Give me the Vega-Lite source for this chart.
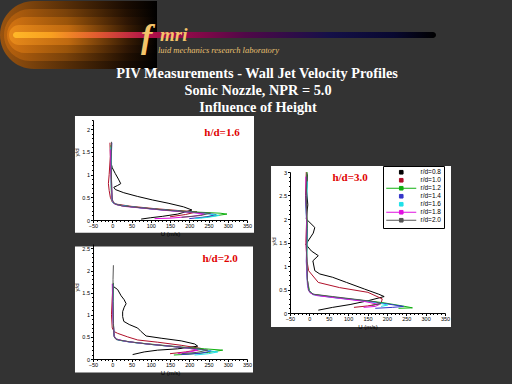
{
"$schema":"https://vega.github.io/schema/vega-lite/v6.json",
"background":"#333333",
"padding":{"left":0,"top":0,"right":0,"bottom":13},
"config":{"view":{"stroke":null},"font":"Liberation Sans"},
"spacing":0,
"resolve":{"scale":{"color":"independent"},"legend":{"color":"independent"}},
"datasets":{"prof":[
{"p":1,"s":"r/d=0.8","i":0,"u":-3,"y":1.25},{"p":1,"s":"r/d=0.8","i":1,"u":0,"y":1.15},{"p":1,"s":"r/d=0.8","i":2,"u":8,"y":1.02},{"p":1,"s":"r/d=0.8","i":3,"u":16,"y":0.9},{"p":1,"s":"r/d=0.8","i":4,"u":22,"y":0.8},{"p":1,"s":"r/d=0.8","i":5,"u":14,"y":0.76},{"p":1,"s":"r/d=0.8","i":6,"u":4,"y":0.72},{"p":1,"s":"r/d=0.8","i":7,"u":8,"y":0.67},{"p":1,"s":"r/d=0.8","i":8,"u":30,"y":0.6},{"p":1,"s":"r/d=0.8","i":9,"u":65,"y":0.52},{"p":1,"s":"r/d=0.8","i":10,"u":105,"y":0.44},{"p":1,"s":"r/d=0.8","i":11,"u":145,"y":0.37},{"p":1,"s":"r/d=0.8","i":12,"u":185,"y":0.29},{"p":1,"s":"r/d=0.8","i":13,"u":207,"y":0.22},{"p":1,"s":"r/d=0.8","i":14,"u":170,"y":0.13},{"p":1,"s":"r/d=0.8","i":15,"u":130,"y":0.08},{"p":1,"s":"r/d=0.8","i":16,"u":100,"y":0.05},{"p":1,"s":"r/d=0.8","i":17,"u":75,"y":0.02},
{"p":1,"s":"r/d=1.0","i":0,"u":-6,"y":1.7},{"p":1,"s":"r/d=1.0","i":1,"u":-5,"y":1.4},{"p":1,"s":"r/d=1.0","i":2,"u":-8,"y":1.0},{"p":1,"s":"r/d=1.0","i":3,"u":-10,"y":0.8},{"p":1,"s":"r/d=1.0","i":4,"u":-8,"y":0.65},{"p":1,"s":"r/d=1.0","i":5,"u":-5,"y":0.5},{"p":1,"s":"r/d=1.0","i":6,"u":0,"y":0.4},{"p":1,"s":"r/d=1.0","i":7,"u":10,"y":0.35},{"p":1,"s":"r/d=1.0","i":8,"u":50,"y":0.3},{"p":1,"s":"r/d=1.0","i":9,"u":110,"y":0.25},{"p":1,"s":"r/d=1.0","i":10,"u":170,"y":0.21},{"p":1,"s":"r/d=1.0","i":11,"u":220,"y":0.18},{"p":1,"s":"r/d=1.0","i":12,"u":190,"y":0.12},{"p":1,"s":"r/d=1.0","i":13,"u":150,"y":0.07},
{"p":1,"s":"r/d=1.2","i":0,"u":-3,"y":1.65},{"p":1,"s":"r/d=1.2","i":1,"u":-4,"y":1.2},{"p":1,"s":"r/d=1.2","i":2,"u":-3,"y":0.8},{"p":1,"s":"r/d=1.2","i":3,"u":-2,"y":0.5},{"p":1,"s":"r/d=1.2","i":4,"u":0,"y":0.4},{"p":1,"s":"r/d=1.2","i":5,"u":10,"y":0.34},{"p":1,"s":"r/d=1.2","i":6,"u":50,"y":0.29},{"p":1,"s":"r/d=1.2","i":7,"u":110,"y":0.24},{"p":1,"s":"r/d=1.2","i":8,"u":170,"y":0.2},{"p":1,"s":"r/d=1.2","i":9,"u":230,"y":0.17},{"p":1,"s":"r/d=1.2","i":10,"u":280,"y":0.15},{"p":1,"s":"r/d=1.2","i":11,"u":298,"y":0.13},{"p":1,"s":"r/d=1.2","i":12,"u":265,"y":0.09},{"p":1,"s":"r/d=1.2","i":13,"u":230,"y":0.05},
{"p":1,"s":"r/d=1.4","i":0,"u":-1,"y":1.7},{"p":1,"s":"r/d=1.4","i":1,"u":-3,"y":1.3},{"p":1,"s":"r/d=1.4","i":2,"u":-2,"y":0.9},{"p":1,"s":"r/d=1.4","i":3,"u":-1,"y":0.5},{"p":1,"s":"r/d=1.4","i":4,"u":2,"y":0.38},{"p":1,"s":"r/d=1.4","i":5,"u":15,"y":0.33},{"p":1,"s":"r/d=1.4","i":6,"u":60,"y":0.28},{"p":1,"s":"r/d=1.4","i":7,"u":120,"y":0.23},{"p":1,"s":"r/d=1.4","i":8,"u":180,"y":0.19},{"p":1,"s":"r/d=1.4","i":9,"u":240,"y":0.15},{"p":1,"s":"r/d=1.4","i":10,"u":270,"y":0.12},{"p":1,"s":"r/d=1.4","i":11,"u":245,"y":0.07},{"p":1,"s":"r/d=1.4","i":12,"u":200,"y":0.03},
{"p":1,"s":"r/d=1.6","i":0,"u":-4,"y":1.6},{"p":1,"s":"r/d=1.6","i":1,"u":-2,"y":1.2},{"p":1,"s":"r/d=1.6","i":2,"u":-3,"y":0.8},{"p":1,"s":"r/d=1.6","i":3,"u":-1,"y":0.45},{"p":1,"s":"r/d=1.6","i":4,"u":3,"y":0.37},{"p":1,"s":"r/d=1.6","i":5,"u":20,"y":0.32},{"p":1,"s":"r/d=1.6","i":6,"u":70,"y":0.27},{"p":1,"s":"r/d=1.6","i":7,"u":130,"y":0.22},{"p":1,"s":"r/d=1.6","i":8,"u":190,"y":0.18},{"p":1,"s":"r/d=1.6","i":9,"u":245,"y":0.14},{"p":1,"s":"r/d=1.6","i":10,"u":278,"y":0.1},{"p":1,"s":"r/d=1.6","i":11,"u":250,"y":0.06},{"p":1,"s":"r/d=1.6","i":12,"u":215,"y":0.03},
{"p":1,"s":"r/d=1.8","i":0,"u":-5,"y":1.55},{"p":1,"s":"r/d=1.8","i":1,"u":-4,"y":1.1},{"p":1,"s":"r/d=1.8","i":2,"u":-2,"y":0.7},{"p":1,"s":"r/d=1.8","i":3,"u":0,"y":0.42},{"p":1,"s":"r/d=1.8","i":4,"u":6,"y":0.35},{"p":1,"s":"r/d=1.8","i":5,"u":30,"y":0.3},{"p":1,"s":"r/d=1.8","i":6,"u":80,"y":0.26},{"p":1,"s":"r/d=1.8","i":7,"u":140,"y":0.21},{"p":1,"s":"r/d=1.8","i":8,"u":200,"y":0.17},{"p":1,"s":"r/d=1.8","i":9,"u":240,"y":0.13},{"p":1,"s":"r/d=1.8","i":10,"u":210,"y":0.08},{"p":1,"s":"r/d=1.8","i":11,"u":150,"y":0.04},{"p":1,"s":"r/d=1.8","i":12,"u":110,"y":0.03},
{"p":1,"s":"r/d=2.0","i":0,"u":-2,"y":1.72},{"p":1,"s":"r/d=2.0","i":1,"u":-3,"y":1.3},{"p":1,"s":"r/d=2.0","i":2,"u":-2,"y":0.9},{"p":1,"s":"r/d=2.0","i":3,"u":0,"y":0.45},{"p":1,"s":"r/d=2.0","i":4,"u":5,"y":0.36},{"p":1,"s":"r/d=2.0","i":5,"u":25,"y":0.31},{"p":1,"s":"r/d=2.0","i":6,"u":75,"y":0.27},{"p":1,"s":"r/d=2.0","i":7,"u":135,"y":0.22},{"p":1,"s":"r/d=2.0","i":8,"u":195,"y":0.18},{"p":1,"s":"r/d=2.0","i":9,"u":255,"y":0.15},{"p":1,"s":"r/d=2.0","i":10,"u":230,"y":0.1},{"p":1,"s":"r/d=2.0","i":11,"u":180,"y":0.06},
{"p":2,"s":"r/d=0.8","i":0,"u":3,"y":1.64},{"p":2,"s":"r/d=0.8","i":1,"u":14,"y":1.57},{"p":2,"s":"r/d=0.8","i":2,"u":23,"y":1.43},{"p":2,"s":"r/d=0.8","i":3,"u":31,"y":1.34},{"p":2,"s":"r/d=0.8","i":4,"u":36,"y":1.25},{"p":2,"s":"r/d=0.8","i":5,"u":31,"y":1.17},{"p":2,"s":"r/d=0.8","i":6,"u":27,"y":1.07},{"p":2,"s":"r/d=0.8","i":7,"u":27,"y":0.96},{"p":2,"s":"r/d=0.8","i":8,"u":30,"y":0.85},{"p":2,"s":"r/d=0.8","i":9,"u":44,"y":0.78},{"p":2,"s":"r/d=0.8","i":10,"u":66,"y":0.7},{"p":2,"s":"r/d=0.8","i":11,"u":75,"y":0.62},{"p":2,"s":"r/d=0.8","i":12,"u":88,"y":0.52},{"p":2,"s":"r/d=0.8","i":13,"u":127,"y":0.47},{"p":2,"s":"r/d=0.8","i":14,"u":179,"y":0.41},{"p":2,"s":"r/d=0.8","i":15,"u":214,"y":0.34},{"p":2,"s":"r/d=0.8","i":16,"u":222,"y":0.29},{"p":2,"s":"r/d=0.8","i":17,"u":170,"y":0.23},{"p":2,"s":"r/d=0.8","i":18,"u":118,"y":0.2},{"p":2,"s":"r/d=0.8","i":19,"u":83,"y":0.16},{"p":2,"s":"r/d=0.8","i":20,"u":53,"y":0.1},
{"p":2,"s":"r/d=1.0","i":0,"u":2,"y":1.7},{"p":2,"s":"r/d=1.0","i":1,"u":0,"y":1.4},{"p":2,"s":"r/d=1.0","i":2,"u":-2,"y":1.0},{"p":2,"s":"r/d=1.0","i":3,"u":0,"y":0.7},{"p":2,"s":"r/d=1.0","i":4,"u":5,"y":0.62},{"p":2,"s":"r/d=1.0","i":5,"u":14,"y":0.58},{"p":2,"s":"r/d=1.0","i":6,"u":40,"y":0.5},{"p":2,"s":"r/d=1.0","i":7,"u":66,"y":0.43},{"p":2,"s":"r/d=1.0","i":8,"u":118,"y":0.38},{"p":2,"s":"r/d=1.0","i":9,"u":179,"y":0.31},{"p":2,"s":"r/d=1.0","i":10,"u":230,"y":0.24},{"p":2,"s":"r/d=1.0","i":11,"u":235,"y":0.22},{"p":2,"s":"r/d=1.0","i":12,"u":190,"y":0.16},{"p":2,"s":"r/d=1.0","i":13,"u":150,"y":0.12},
{"p":2,"s":"r/d=1.2","i":0,"u":3,"y":1.72},{"p":2,"s":"r/d=1.2","i":1,"u":2,"y":1.3},{"p":2,"s":"r/d=1.2","i":2,"u":3,"y":0.9},{"p":2,"s":"r/d=1.2","i":3,"u":4,"y":0.55},{"p":2,"s":"r/d=1.2","i":4,"u":8,"y":0.47},{"p":2,"s":"r/d=1.2","i":5,"u":20,"y":0.42},{"p":2,"s":"r/d=1.2","i":6,"u":60,"y":0.37},{"p":2,"s":"r/d=1.2","i":7,"u":120,"y":0.32},{"p":2,"s":"r/d=1.2","i":8,"u":180,"y":0.27},{"p":2,"s":"r/d=1.2","i":9,"u":240,"y":0.23},{"p":2,"s":"r/d=1.2","i":10,"u":287,"y":0.2},{"p":2,"s":"r/d=1.2","i":11,"u":250,"y":0.15},{"p":2,"s":"r/d=1.2","i":12,"u":200,"y":0.11},{"p":2,"s":"r/d=1.2","i":13,"u":160,"y":0.09},
{"p":2,"s":"r/d=1.4","i":0,"u":2,"y":1.7},{"p":2,"s":"r/d=1.4","i":1,"u":1,"y":1.2},{"p":2,"s":"r/d=1.4","i":2,"u":3,"y":0.8},{"p":2,"s":"r/d=1.4","i":3,"u":5,"y":0.5},{"p":2,"s":"r/d=1.4","i":4,"u":12,"y":0.44},{"p":2,"s":"r/d=1.4","i":5,"u":40,"y":0.39},{"p":2,"s":"r/d=1.4","i":6,"u":100,"y":0.33},{"p":2,"s":"r/d=1.4","i":7,"u":160,"y":0.28},{"p":2,"s":"r/d=1.4","i":8,"u":220,"y":0.23},{"p":2,"s":"r/d=1.4","i":9,"u":257,"y":0.18},{"p":2,"s":"r/d=1.4","i":10,"u":230,"y":0.13},{"p":2,"s":"r/d=1.4","i":11,"u":180,"y":0.1},
{"p":2,"s":"r/d=1.6","i":0,"u":1,"y":1.68},{"p":2,"s":"r/d=1.6","i":1,"u":2,"y":1.2},{"p":2,"s":"r/d=1.6","i":2,"u":3,"y":0.7},{"p":2,"s":"r/d=1.6","i":3,"u":6,"y":0.48},{"p":2,"s":"r/d=1.6","i":4,"u":15,"y":0.43},{"p":2,"s":"r/d=1.6","i":5,"u":50,"y":0.38},{"p":2,"s":"r/d=1.6","i":6,"u":110,"y":0.32},{"p":2,"s":"r/d=1.6","i":7,"u":170,"y":0.27},{"p":2,"s":"r/d=1.6","i":8,"u":230,"y":0.21},{"p":2,"s":"r/d=1.6","i":9,"u":274,"y":0.16},{"p":2,"s":"r/d=1.6","i":10,"u":250,"y":0.12},{"p":2,"s":"r/d=1.6","i":11,"u":214,"y":0.09},
{"p":2,"s":"r/d=1.8","i":0,"u":0,"y":1.7},{"p":2,"s":"r/d=1.8","i":1,"u":1,"y":1.3},{"p":2,"s":"r/d=1.8","i":2,"u":2,"y":0.9},{"p":2,"s":"r/d=1.8","i":3,"u":5,"y":0.52},{"p":2,"s":"r/d=1.8","i":4,"u":10,"y":0.45},{"p":2,"s":"r/d=1.8","i":5,"u":35,"y":0.4},{"p":2,"s":"r/d=1.8","i":6,"u":90,"y":0.34},{"p":2,"s":"r/d=1.8","i":7,"u":150,"y":0.29},{"p":2,"s":"r/d=1.8","i":8,"u":200,"y":0.24},{"p":2,"s":"r/d=1.8","i":9,"u":222,"y":0.2},{"p":2,"s":"r/d=1.8","i":10,"u":200,"y":0.16},{"p":2,"s":"r/d=1.8","i":11,"u":170,"y":0.12},
{"p":2,"s":"r/d=2.0","i":0,"u":3,"y":2.12},{"p":2,"s":"r/d=2.0","i":1,"u":2,"y":1.8},{"p":2,"s":"r/d=2.0","i":2,"u":2,"y":1.3},{"p":2,"s":"r/d=2.0","i":3,"u":3,"y":0.8},{"p":2,"s":"r/d=2.0","i":4,"u":5,"y":0.5},{"p":2,"s":"r/d=2.0","i":5,"u":10,"y":0.44},{"p":2,"s":"r/d=2.0","i":6,"u":45,"y":0.39},{"p":2,"s":"r/d=2.0","i":7,"u":100,"y":0.33},{"p":2,"s":"r/d=2.0","i":8,"u":160,"y":0.28},{"p":2,"s":"r/d=2.0","i":9,"u":220,"y":0.23},{"p":2,"s":"r/d=2.0","i":10,"u":248,"y":0.2},{"p":2,"s":"r/d=2.0","i":11,"u":220,"y":0.15},{"p":2,"s":"r/d=2.0","i":12,"u":180,"y":0.12},
{"p":3,"s":"r/d=0.8","i":0,"u":-5,"y":2.95},{"p":3,"s":"r/d=0.8","i":1,"u":-7,"y":2.6},{"p":3,"s":"r/d=0.8","i":2,"u":-4,"y":2.3},{"p":3,"s":"r/d=0.8","i":3,"u":-8,"y":2.0},{"p":3,"s":"r/d=0.8","i":4,"u":14,"y":1.82},{"p":3,"s":"r/d=0.8","i":5,"u":10,"y":1.7},{"p":3,"s":"r/d=0.8","i":6,"u":-9,"y":1.46},{"p":3,"s":"r/d=0.8","i":7,"u":5,"y":1.32},{"p":3,"s":"r/d=0.8","i":8,"u":23,"y":1.22},{"p":3,"s":"r/d=0.8","i":9,"u":9,"y":1.11},{"p":3,"s":"r/d=0.8","i":10,"u":14,"y":0.9},{"p":3,"s":"r/d=0.8","i":11,"u":27,"y":0.83},{"p":3,"s":"r/d=0.8","i":12,"u":60,"y":0.76},{"p":3,"s":"r/d=0.8","i":13,"u":96,"y":0.65},{"p":3,"s":"r/d=0.8","i":14,"u":142,"y":0.51},{"p":3,"s":"r/d=0.8","i":15,"u":179,"y":0.4},{"p":3,"s":"r/d=0.8","i":16,"u":193,"y":0.35},{"p":3,"s":"r/d=0.8","i":17,"u":151,"y":0.26},{"p":3,"s":"r/d=0.8","i":18,"u":105,"y":0.18},{"p":3,"s":"r/d=0.8","i":19,"u":60,"y":0.12},{"p":3,"s":"r/d=0.8","i":20,"u":23,"y":0.06},
{"p":3,"s":"r/d=1.0","i":0,"u":-8,"y":3.0},{"p":3,"s":"r/d=1.0","i":1,"u":-10,"y":2.5},{"p":3,"s":"r/d=1.0","i":2,"u":-7,"y":2.0},{"p":3,"s":"r/d=1.0","i":3,"u":-9,"y":1.5},{"p":3,"s":"r/d=1.0","i":4,"u":-6,"y":1.1},{"p":3,"s":"r/d=1.0","i":5,"u":-2,"y":0.9},{"p":3,"s":"r/d=1.0","i":6,"u":5,"y":0.83},{"p":3,"s":"r/d=1.0","i":7,"u":23,"y":0.65},{"p":3,"s":"r/d=1.0","i":8,"u":78,"y":0.54},{"p":3,"s":"r/d=1.0","i":9,"u":151,"y":0.44},{"p":3,"s":"r/d=1.0","i":10,"u":188,"y":0.3},{"p":3,"s":"r/d=1.0","i":11,"u":185,"y":0.2},{"p":3,"s":"r/d=1.0","i":12,"u":150,"y":0.15},{"p":3,"s":"r/d=1.0","i":13,"u":115,"y":0.12},
{"p":3,"s":"r/d=1.2","i":0,"u":-6,"y":3.0},{"p":3,"s":"r/d=1.2","i":1,"u":-8,"y":2.4},{"p":3,"s":"r/d=1.2","i":2,"u":-5,"y":1.8},{"p":3,"s":"r/d=1.2","i":3,"u":-7,"y":1.2},{"p":3,"s":"r/d=1.2","i":4,"u":-5,"y":0.7},{"p":3,"s":"r/d=1.2","i":5,"u":0,"y":0.48},{"p":3,"s":"r/d=1.2","i":6,"u":8,"y":0.4},{"p":3,"s":"r/d=1.2","i":7,"u":60,"y":0.34},{"p":3,"s":"r/d=1.2","i":8,"u":124,"y":0.28},{"p":3,"s":"r/d=1.2","i":9,"u":190,"y":0.22},{"p":3,"s":"r/d=1.2","i":10,"u":240,"y":0.15},{"p":3,"s":"r/d=1.2","i":11,"u":266,"y":0.11},{"p":3,"s":"r/d=1.2","i":12,"u":230,"y":0.1},
{"p":3,"s":"r/d=1.4","i":0,"u":-7,"y":2.9},{"p":3,"s":"r/d=1.4","i":1,"u":-9,"y":2.3},{"p":3,"s":"r/d=1.4","i":2,"u":-6,"y":1.7},{"p":3,"s":"r/d=1.4","i":3,"u":-8,"y":1.1},{"p":3,"s":"r/d=1.4","i":4,"u":-5,"y":0.6},{"p":3,"s":"r/d=1.4","i":5,"u":0,"y":0.45},{"p":3,"s":"r/d=1.4","i":6,"u":10,"y":0.39},{"p":3,"s":"r/d=1.4","i":7,"u":65,"y":0.33},{"p":3,"s":"r/d=1.4","i":8,"u":130,"y":0.27},{"p":3,"s":"r/d=1.4","i":9,"u":195,"y":0.2},{"p":3,"s":"r/d=1.4","i":10,"u":243,"y":0.14},{"p":3,"s":"r/d=1.4","i":11,"u":215,"y":0.12},{"p":3,"s":"r/d=1.4","i":12,"u":170,"y":0.1},
{"p":3,"s":"r/d=1.6","i":0,"u":-5,"y":2.8},{"p":3,"s":"r/d=1.6","i":1,"u":-8,"y":2.2},{"p":3,"s":"r/d=1.6","i":2,"u":-6,"y":1.6},{"p":3,"s":"r/d=1.6","i":3,"u":-7,"y":1.0},{"p":3,"s":"r/d=1.6","i":4,"u":-4,"y":0.55},{"p":3,"s":"r/d=1.6","i":5,"u":2,"y":0.44},{"p":3,"s":"r/d=1.6","i":6,"u":15,"y":0.38},{"p":3,"s":"r/d=1.6","i":7,"u":70,"y":0.32},{"p":3,"s":"r/d=1.6","i":8,"u":130,"y":0.27},{"p":3,"s":"r/d=1.6","i":9,"u":180,"y":0.21},{"p":3,"s":"r/d=1.6","i":10,"u":202,"y":0.17},{"p":3,"s":"r/d=1.6","i":11,"u":185,"y":0.14},
{"p":3,"s":"r/d=1.8","i":0,"u":-9,"y":2.9},{"p":3,"s":"r/d=1.8","i":1,"u":-7,"y":2.1},{"p":3,"s":"r/d=1.8","i":2,"u":-8,"y":1.4},{"p":3,"s":"r/d=1.8","i":3,"u":-6,"y":0.8},{"p":3,"s":"r/d=1.8","i":4,"u":-3,"y":0.5},{"p":3,"s":"r/d=1.8","i":5,"u":3,"y":0.42},{"p":3,"s":"r/d=1.8","i":6,"u":20,"y":0.37},{"p":3,"s":"r/d=1.8","i":7,"u":80,"y":0.31},{"p":3,"s":"r/d=1.8","i":8,"u":140,"y":0.25},{"p":3,"s":"r/d=1.8","i":9,"u":180,"y":0.18},{"p":3,"s":"r/d=1.8","i":10,"u":170,"y":0.14},{"p":3,"s":"r/d=1.8","i":11,"u":140,"y":0.12},
{"p":3,"s":"r/d=2.0","i":0,"u":-6,"y":2.98},{"p":3,"s":"r/d=2.0","i":1,"u":-8,"y":2.5},{"p":3,"s":"r/d=2.0","i":2,"u":-6,"y":1.9},{"p":3,"s":"r/d=2.0","i":3,"u":-7,"y":1.3},{"p":3,"s":"r/d=2.0","i":4,"u":-5,"y":0.7},{"p":3,"s":"r/d=2.0","i":5,"u":-1,"y":0.47},{"p":3,"s":"r/d=2.0","i":6,"u":10,"y":0.4},{"p":3,"s":"r/d=2.0","i":7,"u":60,"y":0.35},{"p":3,"s":"r/d=2.0","i":8,"u":120,"y":0.29},{"p":3,"s":"r/d=2.0","i":9,"u":170,"y":0.24},{"p":3,"s":"r/d=2.0","i":10,"u":185,"y":0.2},{"p":3,"s":"r/d=2.0","i":11,"u":160,"y":0.16}
]},
"vconcat":[
{"width":512,"height":116,"data":{"values":[{}]},
 "layer":[
  {"mark":{"type":"rect","cornerRadiusTopLeft":34,"cornerRadiusBottomLeft":34,"color":{"gradient":"linear","x1":0,"y1":0,"x2":1,"y2":0,"stops":[{"offset":0,"color":"#9a5410"},{"offset":0.4,"color":"#5a3008"},{"offset":0.8,"color":"#1a0c02"},{"offset":1,"color":"#000000"}]}},
   "encoding":{"x":{"datum":0,"type":"quantitative","scale":{"domain":[0,512]},"axis":null},"x2":{"datum":157},"y":{"datum":1,"type":"quantitative","scale":{"domain":[0,116],"reverse":true},"axis":null},"y2":{"datum":69}}},
  {"mark":{"type":"rect","cornerRadiusTopLeft":26,"cornerRadiusBottomLeft":26,"color":{"gradient":"linear","x1":0,"y1":0,"x2":1,"y2":0,"stops":[{"offset":0,"color":"#b8620e"},{"offset":0.4,"color":"#7a420a"},{"offset":0.8,"color":"#221002"},{"offset":1,"color":"#000000"}]}},
   "encoding":{"x":{"datum":4,"type":"quantitative","scale":{"domain":[0,512]},"axis":null},"x2":{"datum":157},"y":{"datum":9,"type":"quantitative","scale":{"domain":[0,116],"reverse":true},"axis":null},"y2":{"datum":61}}},
  {"mark":{"type":"rect","cornerRadiusTopLeft":18,"cornerRadiusBottomLeft":18,"color":{"gradient":"linear","x1":0,"y1":0,"x2":1,"y2":0,"stops":[{"offset":0,"color":"#d47412"},{"offset":0.4,"color":"#9a540a"},{"offset":0.8,"color":"#2e1604"},{"offset":1,"color":"#000000"}]}},
   "encoding":{"x":{"datum":7,"type":"quantitative","scale":{"domain":[0,512]},"axis":null},"x2":{"datum":157},"y":{"datum":17,"type":"quantitative","scale":{"domain":[0,116],"reverse":true},"axis":null},"y2":{"datum":53}}},
  {"mark":{"type":"rect","cornerRadiusTopLeft":10,"cornerRadiusBottomLeft":10,"color":{"gradient":"linear","x1":0,"y1":0,"x2":1,"y2":0,"stops":[{"offset":0,"color":"#e88a1a"},{"offset":0.4,"color":"#c06a10"},{"offset":0.8,"color":"#381c04"},{"offset":1,"color":"#000000"}]}},
   "encoding":{"x":{"datum":9,"type":"quantitative","scale":{"domain":[0,512]},"axis":null},"x2":{"datum":157},"y":{"datum":25,"type":"quantitative","scale":{"domain":[0,116],"reverse":true},"axis":null},"y2":{"datum":45}}},
  {"mark":{"type":"rect","cornerRadius":3,"color":{"gradient":"linear","x1":0,"y1":0,"x2":1,"y2":0,"stops":[{"offset":0,"color":"#ffb828"},{"offset":0.09,"color":"#f8a020"},{"offset":0.2,"color":"#e05a30"},{"offset":0.32,"color":"#b0104a"},{"offset":0.45,"color":"#800848"},{"offset":0.55,"color":"#500848"},{"offset":0.75,"color":"#141048"},{"offset":0.9,"color":"#080830"},{"offset":1,"color":"#000000"}]}},
   "encoding":{"x":{"datum":13,"type":"quantitative","scale":{"domain":[0,512]},"axis":null},"x2":{"datum":436},"y":{"datum":32,"type":"quantitative","scale":{"domain":[0,116],"reverse":true},"axis":null},"y2":{"datum":38}}},
  {"mark":{"type":"text","text":"f","font":"Liberation Serif","fontStyle":"italic","fontWeight":"bold","fontSize":34,"color":"#f4c46a","align":"left","baseline":"alphabetic"},
   "encoding":{"x":{"datum":141,"type":"quantitative","scale":{"domain":[0,512]},"axis":null},"y":{"datum":48,"type":"quantitative","scale":{"domain":[0,116],"reverse":true},"axis":null}}},
  {"mark":{"type":"text","text":"mri","font":"Liberation Serif","fontStyle":"italic","fontWeight":"bold","fontSize":19,"color":"#f4c46a","align":"left","baseline":"alphabetic"},
   "encoding":{"x":{"datum":160,"type":"quantitative","scale":{"domain":[0,512]},"axis":null},"y":{"datum":41,"type":"quantitative","scale":{"domain":[0,116],"reverse":true},"axis":null}}},
  {"mark":{"type":"text","text":"luid mechanics research laboratory","font":"Liberation Serif","fontStyle":"italic","fontSize":8.5,"color":"#e8c070","align":"left","baseline":"alphabetic"},
   "encoding":{"x":{"datum":158,"type":"quantitative","scale":{"domain":[0,512]},"axis":null},"y":{"datum":53,"type":"quantitative","scale":{"domain":[0,116],"reverse":true},"axis":null}}},
  {"mark":{"type":"text","text":"PIV Measurements - Wall Jet Velocity Profiles","font":"Liberation Serif","fontWeight":"bold","fontSize":14.3,"color":"#ffffff","align":"center","baseline":"alphabetic"},
   "encoding":{"x":{"datum":257,"type":"quantitative","scale":{"domain":[0,512]},"axis":null},"y":{"datum":78,"type":"quantitative","scale":{"domain":[0,116],"reverse":true},"axis":null}}},
  {"mark":{"type":"text","text":"Sonic Nozzle, NPR = 5.0","font":"Liberation Serif","fontWeight":"bold","fontSize":14.3,"color":"#ffffff","align":"center","baseline":"alphabetic"},
   "encoding":{"x":{"datum":258,"type":"quantitative","scale":{"domain":[0,512]},"axis":null},"y":{"datum":95,"type":"quantitative","scale":{"domain":[0,116],"reverse":true},"axis":null}}},
  {"mark":{"type":"text","text":"Influence of Height","font":"Liberation Serif","fontWeight":"bold","fontSize":14.3,"color":"#ffffff","align":"center","baseline":"alphabetic"},
   "encoding":{"x":{"datum":258,"type":"quantitative","scale":{"domain":[0,512]},"axis":null},"y":{"datum":112,"type":"quantitative","scale":{"domain":[0,116],"reverse":true},"axis":null}}}
 ]},
{"spacing":15,
 "resolve":{"scale":{"color":"independent"},"legend":{"color":"independent"}},
 "hconcat":[
  {"width":58,"height":1,"data":{"values":[]},"mark":"point","encoding":{}},
  {"spacing":8,
   "resolve":{"scale":{"color":"independent"},"legend":{"color":"independent"}},
   "vconcat":[
    {"width":154,"height":100,
     "resolve":{"axis":{"x":"independent","y":"independent"}},
     "layer":[
      {"data":{"values":[{}]},"mark":{"type":"rect","color":"#ffffff"},
       "encoding":{"x":{"datum":-96.8,"type":"quantitative","scale":{"domain":[-50,350]},"axis":null},"x2":{"datum":368.2},"y":{"datum":2.288,"type":"quantitative","scale":{"domain":[0,2.2]},"axis":null},"y2":{"datum":-0.28}}},
      {"data":{"name":"prof"},"transform":[{"filter":"datum.p == 1"}],"mark":{"type":"line","strokeWidth":1},
       "encoding":{
        "x":{"field":"u","type":"quantitative","scale":{"domain":[-50,350]},"axis":{"orient":"bottom","values":[-50,0,50,100,150,200,250,300,350],"title":"U (m/s)","grid":false,"zindex":1,"domainColor":"#000000","tickColor":"#000000","tickSize":2.5,"labelFont":"Liberation Sans","labelFontSize":5.5,"labelColor":"#000000","labelPadding":1,"labelFlush":false,"labelOverlap":false,"titleFont":"Liberation Sans","titleFontSize":6,"titleFontWeight":"normal","titleColor":"#000000","titlePadding":1}},
        "y":{"field":"y","type":"quantitative","scale":{"domain":[0,2.2]},"axis":{"orient":"left","values":[0,0.5,1,1.5,2],"format":"~g","title":"y/d","titleY":32,"grid":false,"zindex":1,"domainColor":"#000000","tickColor":"#000000","tickSize":2.5,"labelFont":"Liberation Sans","labelFontSize":5.5,"labelColor":"#000000","labelPadding":1,"labelFlush":false,"labelOverlap":false,"titleFont":"Liberation Sans","titleFontSize":6,"titleFontWeight":"normal","titleColor":"#000000","titlePadding":2}},
        "color":{"field":"s","type":"nominal","scale":{"domain":["r/d=0.8","r/d=1.0","r/d=1.2","r/d=1.4","r/d=1.6","r/d=1.8","r/d=2.0"],"range":["#000000","#b0102a","#10b010","#3535c8","#20e0e8","#e010e0","#555555"]},"legend":null},
        "order":{"field":"i","type":"quantitative"}}},
      {"data":{"values":[{}]},"mark":{"type":"text","text":"h/d=1.6","font":"Liberation Serif","fontWeight":"bold","fontSize":11,"color":"#e00000","align":"center","baseline":"middle"},
       "encoding":{
        "x":{"datum":285,"type":"quantitative","axis":{"orient":"bottom","values":[-40,-30,-20,-10,10,20,30,40,60,70,80,90,110,120,130,140,160,170,180,190,210,220,230,240,260,270,280,290,310,320,330,340],"labels":false,"domain":false,"grid":false,"title":null,"tickSize":1.5,"tickColor":"#000000","zindex":1}},
        "y":{"datum":1.91,"type":"quantitative","axis":{"orient":"left","values":[0.1,0.2,0.3,0.4,0.6,0.7,0.8,0.9,1.1,1.2,1.3,1.4,1.6,1.7,1.8,1.9,2.1,2.2],"labels":false,"domain":false,"grid":false,"title":null,"tickSize":1.5,"tickColor":"#000000","zindex":1}}}}
     ]},
    {"width":154,"height":115,
     "resolve":{"axis":{"x":"independent","y":"independent"}},
     "layer":[
      {"data":{"values":[{}]},"mark":{"type":"rect","color":"#ffffff"},
       "encoding":{"x":{"datum":-96.8,"type":"quantitative","scale":{"domain":[-50,350]},"axis":null},"x2":{"datum":365.6},"y":{"datum":2.543,"type":"quantitative","scale":{"domain":[0,2.5]},"axis":null},"y2":{"datum":-0.304}}},
      {"data":{"name":"prof"},"transform":[{"filter":"datum.p == 2"}],"mark":{"type":"line","strokeWidth":1},
       "encoding":{
        "x":{"field":"u","type":"quantitative","scale":{"domain":[-50,350]},"axis":{"orient":"bottom","values":[-50,0,50,100,150,200,250,300,350],"title":"U (m/s)","grid":false,"zindex":1,"domainColor":"#000000","tickColor":"#000000","tickSize":2.5,"labelFont":"Liberation Sans","labelFontSize":5.5,"labelColor":"#000000","labelPadding":1,"labelFlush":false,"labelOverlap":false,"titleFont":"Liberation Sans","titleFontSize":6,"titleFontWeight":"normal","titleColor":"#000000","titlePadding":1}},
        "y":{"field":"y","type":"quantitative","scale":{"domain":[0,2.5]},"axis":{"orient":"left","values":[0,0.5,1,1.5,2,2.5],"format":"~g","title":"y/d","titleY":43,"grid":false,"zindex":1,"domainColor":"#000000","tickColor":"#000000","tickSize":2.5,"labelFont":"Liberation Sans","labelFontSize":5.5,"labelColor":"#000000","labelPadding":1,"labelFlush":false,"labelOverlap":false,"titleFont":"Liberation Sans","titleFontSize":6,"titleFontWeight":"normal","titleColor":"#000000","titlePadding":2}},
        "color":{"field":"s","type":"nominal","scale":{"domain":["r/d=0.8","r/d=1.0","r/d=1.2","r/d=1.4","r/d=1.6","r/d=1.8","r/d=2.0"],"range":["#000000","#b0102a","#10b010","#3535c8","#20e0e8","#e010e0","#555555"]},"legend":null},
        "order":{"field":"i","type":"quantitative"}}},
      {"data":{"values":[{}]},"mark":{"type":"text","text":"h/d=2.0","font":"Liberation Serif","fontWeight":"bold","fontSize":11,"color":"#e00000","align":"center","baseline":"middle"},
       "encoding":{
        "x":{"datum":280,"type":"quantitative","axis":{"orient":"bottom","values":[-40,-30,-20,-10,10,20,30,40,60,70,80,90,110,120,130,140,160,170,180,190,210,220,230,240,260,270,280,290,310,320,330,340],"labels":false,"domain":false,"grid":false,"title":null,"tickSize":1.5,"tickColor":"#000000","zindex":1}},
        "y":{"datum":2.26,"type":"quantitative","axis":{"orient":"left","values":[0.1,0.2,0.3,0.4,0.6,0.7,0.8,0.9,1.1,1.2,1.3,1.4,1.6,1.7,1.8,1.9,2.1,2.2,2.3,2.4],"labels":false,"domain":false,"grid":false,"title":null,"tickSize":1.5,"tickColor":"#000000","zindex":1}}}}
     ]}
   ]},
  {"spacing":0,
   "resolve":{"scale":{"color":"independent"},"legend":{"color":"independent"}},
   "vconcat":[
    {"width":1,"height":45,"data":{"values":[]},"mark":"point","encoding":{}},
    {"width":155,"height":141,
     "resolve":{"axis":{"x":"independent","y":"independent"}},
     "layer":[
      {"data":{"values":[{}]},"mark":{"type":"rect","color":"#ffffff"},
       "encoding":{"x":{"datum":-99,"type":"quantitative","scale":{"domain":[-50,350]},"axis":null},"x2":{"datum":365.5},"y":{"datum":3.128,"type":"quantitative","scale":{"domain":[0,3]},"axis":null},"y2":{"datum":-0.298}}},
      {"data":{"name":"prof"},"transform":[{"filter":"datum.p == 3"}],"mark":{"type":"line","strokeWidth":1},
       "encoding":{
        "x":{"field":"u","type":"quantitative","scale":{"domain":[-50,350]},"axis":{"orient":"bottom","values":[-50,0,50,100,150,200,250,300,350],"title":"U (m/s)","grid":false,"zindex":1,"domainColor":"#000000","tickColor":"#000000","tickSize":2.5,"labelFont":"Liberation Sans","labelFontSize":5.5,"labelColor":"#000000","labelPadding":1,"labelFlush":false,"labelOverlap":false,"titleFont":"Liberation Sans","titleFontSize":6,"titleFontWeight":"normal","titleColor":"#000000","titlePadding":1}},
        "y":{"field":"y","type":"quantitative","scale":{"domain":[0,3]},"axis":{"orient":"left","values":[0,0.5,1,1.5,2,2.5,3],"format":"~g","title":"y/d","titleY":69,"grid":false,"zindex":1,"domainColor":"#000000","tickColor":"#000000","tickSize":2.5,"labelFont":"Liberation Sans","labelFontSize":5.5,"labelColor":"#000000","labelPadding":1,"labelFlush":false,"labelOverlap":false,"titleFont":"Liberation Sans","titleFontSize":6,"titleFontWeight":"normal","titleColor":"#000000","titlePadding":2}},
        "color":{"field":"s","type":"nominal","scale":{"domain":["r/d=0.8","r/d=1.0","r/d=1.2","r/d=1.4","r/d=1.6","r/d=1.8","r/d=2.0"],"range":["#000000","#b0102a","#10b010","#3535c8","#20e0e8","#e010e0","#555555"]},
          "legend":{"orient":"none","legendX":93,"legendY":-6,"title":null,"fillColor":"#ffffff","strokeColor":"#000000","padding":3,"labelFont":"Liberation Sans","labelFontSize":6.5,"labelColor":"#000000","rowPadding":-1.5,"symbolSize":9,"symbolStrokeWidth":1,"symbolOffset":12,"labelOffset":16,"symbolType":"M-1.2,-1.2H1.2V1.2H-1.2Z",
            "encode":{"symbols":{"update":{"shape":{"signal":"indexof(['r/d=1.2','r/d=1.8','r/d=2.0'], datum.value) >= 0 ? 'M-10,0H10M-1.2,-1.2H1.2V1.2H-1.2Z' : 'M-1.2,-1.2H1.2V1.2H-1.2Z'"},"fill":{"signal":"{'r/d=0.8':'#000000','r/d=1.0':'#b0102a','r/d=1.2':'#10b010','r/d=1.4':'#3535c8','r/d=1.6':'#20e0e8','r/d=1.8':'#e010e0','r/d=2.0':'#555555'}[datum.value]"}}}}}},
        "order":{"field":"i","type":"quantitative"}}},
      {"data":{"values":[{}]},"mark":{"type":"text","text":"h/d=3.0","font":"Liberation Serif","fontWeight":"bold","fontSize":11,"color":"#e00000","align":"center","baseline":"middle"},
       "encoding":{
        "x":{"datum":105,"type":"quantitative","axis":{"orient":"bottom","values":[-40,-30,-20,-10,10,20,30,40,60,70,80,90,110,120,130,140,160,170,180,190,210,220,230,240,260,270,280,290,310,320,330,340],"labels":false,"domain":false,"grid":false,"title":null,"tickSize":1.5,"tickColor":"#000000","zindex":1}},
        "y":{"datum":2.87,"type":"quantitative","axis":{"orient":"left","values":[0.1,0.2,0.3,0.4,0.6,0.7,0.8,0.9,1.1,1.2,1.3,1.4,1.6,1.7,1.8,1.9,2.1,2.2,2.3,2.4,2.6,2.7,2.8,2.9],"labels":false,"domain":false,"grid":false,"title":null,"tickSize":1.5,"tickColor":"#000000","zindex":1}}}}
     ]}
   ]}
 ]}
]
}
